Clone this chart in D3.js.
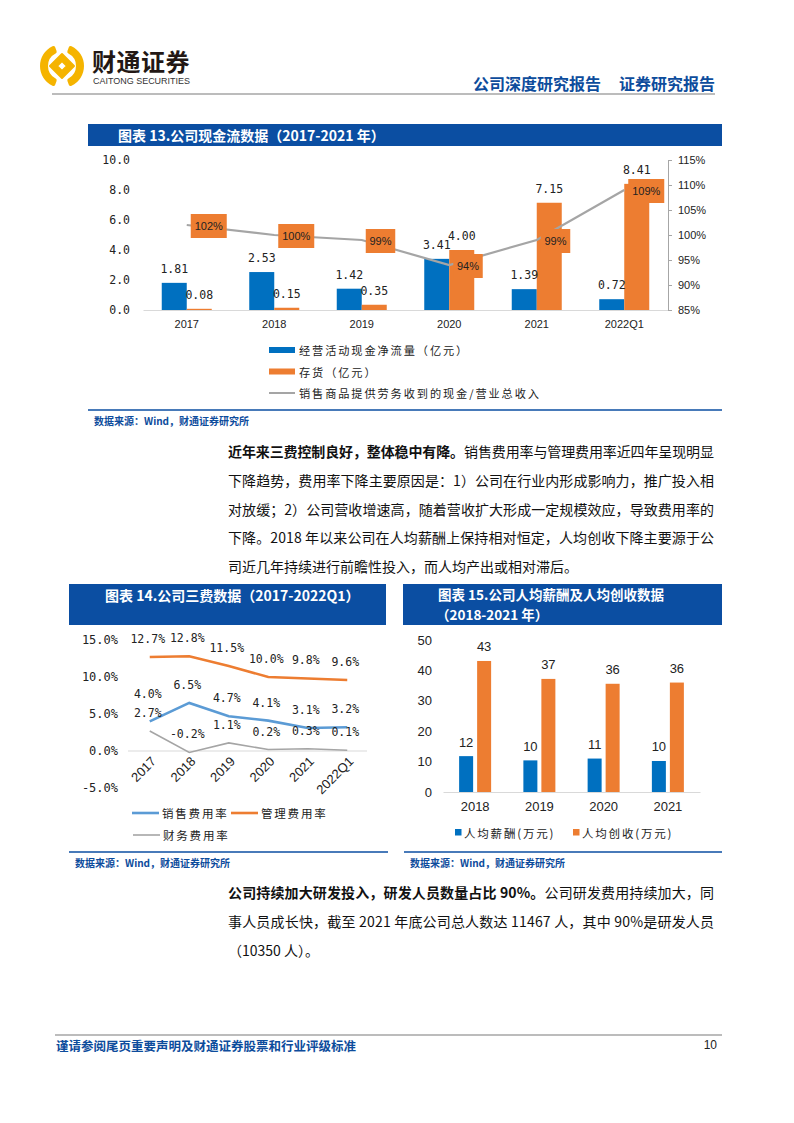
<!DOCTYPE html>
<html><head><meta charset="utf-8">
<script src="https://cdn.jsdelivr.net/npm/d3@7/dist/d3.min.js"></script>
<style>body{margin:0;background:#fff;} svg{display:block;}</style>
</head><body>
<script>
// ---------- DATA ----------
const cfYears = ["2017","2018","2019","2020","2021","2022Q1"];
const opCashFlow = [1.81,2.53,1.42,3.41,1.39,0.72];
const inventory = [0.08,0.15,0.35,4.00,7.15,8.41];
const cashRatio = [102,100,99,94,99,109];
const cfLeftTicks = [0,2,4,6,8,10];
const cfRightTicks = [85,90,95,100,105,110,115];
const cfLegend = ["经营活动现金净流量（亿元）","存货（亿元）","销售商品提供劳务收到的现金/营业总收入"];

const feeYears = ["2017","2018","2019","2020","2021","2022Q1"];
const salesRate = [4.0,6.5,4.7,4.1,3.1,3.2];
const mgmtRate = [12.7,12.8,11.5,10.0,9.8,9.6];
const finRate = [2.7,-0.2,1.1,0.2,0.3,0.1];
const feeTicks = [-5,0,5,10,15];
const feeLegend = ["销售费用率","管理费用率","财务费用率"];

const empYears = ["2018","2019","2020","2021"];
const avgSalary = [11.8,10.4,11.0,10.2];
const avgRevenue = [43.1,37.2,35.6,36.0];
const empTicks = [0,10,20,30,40,50];
const empLegend = ["人均薪酬(万元)","人均创收(万元)"];

// ---------- STYLE ----------
const CJK = "'Noto Sans CJK SC','Noto Sans',sans-serif";
const MONO = "'DejaVu Sans Mono','Noto Sans CJK SC',monospace";
const ARIAL = "'Liberation Sans',Arial,sans-serif";
const BLUE = "#0070C0", ORANGE = "#ED7D31", GREY = "#A5A5A5", LBLUE = "#5B9BD5";
const NAVY = "#0B4EA2", HEAD = "#0D4C9C";

const svg = d3.select("body").append("svg").attr("width",794).attr("height",1123);

// ---------- HEADER ----------
const logo = svg.append("g").attr("transform","translate(62,66)");
const ring = d3.arc().innerRadius(14).outerRadius(22).cornerRadius(2);
const deg = Math.PI/180;
logo.append("path").attr("d", ring({startAngle:200*deg,endAngle:340*deg})).attr("fill","#F5B400");
logo.append("path").attr("d", ring({startAngle:20*deg,endAngle:160*deg})).attr("fill","#F5B400");
logo.append("path").attr("d","M0,-12 L12,0 L0,12 L-12,0 Z M0,-5 L5,0 L0,5 L-5,0 Z")
  .attr("fill","#F5B400").attr("fill-rule","evenodd").attr("stroke","#F5B400").attr("stroke-width",2).attr("stroke-linejoin","round");
svg.append("text").attr("x",92).attr("y",71).text("财通证券")
  .attr("font-family",CJK).attr("font-size",24).attr("font-weight",700).attr("fill","#231815").attr("letter-spacing",0.5);
svg.append("text").attr("x",93).attr("y",84).text("CAITONG SECURITIES")
  .attr("font-family",ARIAL).attr("font-size",8.8).attr("fill","#333").attr("textLength",97).attr("lengthAdjust","spacingAndGlyphs");
svg.append("line").attr("x1",52).attr("x2",715).attr("y1",94).attr("y2",94).attr("stroke","#A6A6A6").attr("stroke-width",1.5);
svg.append("text").attr("x",473).attr("y",90).text("公司深度研究报告")
  .attr("font-family",CJK).attr("font-size",16).attr("font-weight",700).attr("fill",HEAD);
svg.append("text").attr("x",619).attr("y",90).text("证券研究报告")
  .attr("font-family",CJK).attr("font-size",16).attr("font-weight",700).attr("fill",HEAD);

// helpers
function titleBar(x,y,w,h,lines){
  svg.append("rect").attr("x",x).attr("y",y).attr("width",w).attr("height",h).attr("fill",NAVY);
  lines.forEach(l=>svg.append("text").attr("x",l.x).attr("y",l.y).text(l.t)
    .attr("font-family",CJK).attr("font-size",l.s||14).attr("font-weight",700).attr("fill","#fff").attr("dominant-baseline","central"));
}
function source(x1,x2,y){
  svg.append("line").attr("x1",x1).attr("x2",x2).attr("y1",y).attr("y2",y).attr("stroke",NAVY).attr("stroke-width",1.5);
  svg.append("text").attr("x",x1+6).attr("y",y+10).text("数据来源：Wind，财通证券研究所")
    .attr("font-family",CJK).attr("font-size",10).attr("font-weight",700).attr("fill",HEAD).attr("dominant-baseline","central");
}

// ---------- CHART 13 ----------
titleBar(88,124,634,22,[{x:118,y:135,t:"图表 13.公司现金流数据（2017-2021 年）"}]);
const g13 = svg.append("g");
const x13 = d3.scaleBand().domain(cfYears).range([143,668]);
const yL13 = d3.scaleLinear().domain([0,10]).range([310,160]);
const yR13 = d3.scaleLinear().domain([85,115]).range([310,160]);
const bw13 = 25;
const ax13L = g13.append("g").attr("transform","translate(134,0)")
  .call(d3.axisLeft(yL13).tickValues(cfLeftTicks).tickSize(0).tickPadding(4).tickFormat(d3.format(".1f")));
ax13L.select(".domain").remove();
ax13L.selectAll("text").attr("font-family",MONO).attr("font-size",11.5).attr("fill","#222");
const ax13B = g13.append("g").attr("transform","translate(0,310)")
  .call(d3.axisBottom(x13).tickSize(0).tickSizeOuter(0).tickPadding(10));
ax13B.select(".domain").attr("stroke","#D9D9D9");
ax13B.selectAll("text").attr("font-family",ARIAL).attr("font-size",11).attr("fill","#222");
const ax13R = g13.append("g").attr("transform","translate(668,0)")
  .call(d3.axisRight(yR13).tickValues(cfRightTicks).tickSize(4).tickSizeOuter(0).tickPadding(6).tickFormat(d=>d+"%"));
ax13R.select(".domain").attr("stroke","#A6A6A6");
ax13R.selectAll("line").attr("stroke","#A6A6A6");
ax13R.selectAll("text").attr("font-family",ARIAL).attr("font-size",11).attr("fill","#222");

cfYears.forEach((yr,i)=>{
  const c = x13(yr)+x13.bandwidth()/2;
  g13.append("rect").attr("x",c-bw13).attr("width",bw13).attr("y",yL13(opCashFlow[i])).attr("height",yL13(0)-yL13(opCashFlow[i])).attr("fill",BLUE);
  g13.append("rect").attr("x",c).attr("width",bw13).attr("y",yL13(inventory[i])).attr("height",yL13(0)-yL13(inventory[i])).attr("fill",ORANGE);
  g13.append("text").attr("x",c-bw13/2).attr("y",yL13(opCashFlow[i])-14).text(opCashFlow[i].toFixed(2))
    .attr("text-anchor","middle").attr("dominant-baseline","central").attr("font-family",MONO).attr("font-size",11.5).attr("fill","#222");
  g13.append("text").attr("x",c+bw13/2).attr("y",yL13(inventory[i])-14).text(inventory[i].toFixed(2))
    .attr("text-anchor","middle").attr("dominant-baseline","central").attr("font-family",MONO).attr("font-size",11.5).attr("fill","#222");
});
const line13 = d3.line().x((d,i)=>x13(cfYears[i])+x13.bandwidth()/2).y(d=>yR13(d));
g13.append("path").attr("d",line13(cashRatio)).attr("fill","none").attr("stroke",GREY).attr("stroke-width",2.2);
cashRatio.forEach((v,i)=>{
  const c = x13(cfYears[i])+x13.bandwidth()/2, t = v+"%";
  const w = t.length*6.5+10;
  g13.append("rect").attr("x",c+4).attr("y",yR13(v)-11).attr("width",w).attr("height",24).attr("fill",ORANGE);
  g13.append("text").attr("x",c+4+w/2).attr("y",yR13(v)+1).text(t).attr("text-anchor","middle").attr("dominant-baseline","central")
    .attr("font-family",ARIAL).attr("font-size",11).attr("fill","#222");
});
// legend 13
const leg13 = g13.append("g");
[BLUE,ORANGE,GREY].forEach((col,i)=>{
  const y = 350+i*21.5;
  if(i<2) leg13.append("rect").attr("x",269).attr("y",y-3).attr("width",26).attr("height",6).attr("fill",col);
  else leg13.append("line").attr("x1",269).attr("x2",295).attr("y1",y).attr("y2",y).attr("stroke",col).attr("stroke-width",2);
  leg13.append("text").attr("x",299).attr("y",y).text(cfLegend[i]).attr("dominant-baseline","central")
    .attr("font-family",CJK).attr("font-size",11.2).attr("letter-spacing",1.9).attr("fill","#222");
});
source(88,722,410);

// ---------- PARAGRAPH 1 ----------
function para(lines,y0,step){
  lines.forEach((ln,i)=>{
    const t = svg.append("text").attr("x",228).attr("y",y0+i*step).attr("font-family",CJK).attr("font-size",14).attr("fill","#111");
    if(ln.b) t.append("tspan").attr("font-weight",700).text(ln.b);
    t.append("tspan").text(ln.n);
    if(ln.j) t.attr("textLength",486).attr("lengthAdjust","spacing");
  });
}
para([
  {b:"近年来三费控制良好，整体稳中有降。",n:"销售费用率与管理费用率近四年呈现明显",j:1},
  {n:"下降趋势，费用率下降主要原因是：1）公司在行业内形成影响力，推广投入相",j:1},
  {n:"对放缓；2）公司营收增速高，随着营收扩大形成一定规模效应，导致费用率的",j:1},
  {n:"下降。2018 年以来公司在人均薪酬上保持相对恒定，人均创收下降主要源于公",j:1},
  {n:"司近几年持续进行前瞻性投入，而人均产出或相对滞后。"}
],457,28.8);

// ---------- CHART 14 ----------
titleBar(69,584,317,41,[{x:105,y:595,t:"图表 14.公司三费数据（2017-2022Q1）"}]);
const g14 = svg.append("g");
const x14 = d3.scaleBand().domain(feeYears).range([130,367]);
const y14 = d3.scaleLinear().domain([-5,15]).range([788,640]);
const ax14 = g14.append("g").attr("transform","translate(122,0)")
  .call(d3.axisLeft(y14).tickValues(feeTicks).tickSize(0).tickPadding(4).tickFormat(d=>d.toFixed(1)+"%"));
ax14.select(".domain").remove();
ax14.selectAll("text").attr("font-family",MONO).attr("font-size",12).attr("fill","#222");
g14.append("line").attr("x1",128).attr("x2",367).attr("y1",y14(0)).attr("y2",y14(0)).attr("stroke","#D9D9D9");
feeYears.forEach(yr=>{
  const c = x14(yr)+x14.bandwidth()/2;
  g14.append("text").attr("transform",`translate(${c+4},759) rotate(-45)`).attr("text-anchor","end").attr("dy","0.35em")
    .text(yr).attr("font-family",ARIAL).attr("font-size",13).attr("fill","#222");
});
const line14 = d3.line().x((d,i)=>x14(feeYears[i])+x14.bandwidth()/2).y(d=>y14(d));
[[mgmtRate,ORANGE,2.6],[salesRate,LBLUE,2.6],[finRate,GREY,1.6]].forEach(([arr,col,w])=>{
  g14.append("path").attr("d",line14(arr)).attr("fill","none").attr("stroke",col).attr("stroke-width",w);
});
[mgmtRate,salesRate,finRate].forEach((arr,si)=>{
  arr.forEach((v,i)=>{
    const c = x14(feeYears[i])+x14.bandwidth()/2;
    const off = (si===1 && i===0) ? 27 : 18;
    g14.append("text").attr("x",c-2).attr("y",y14(v)-off).text(v.toFixed(1)+"%").attr("text-anchor","middle").attr("dominant-baseline","central")
      .attr("font-family",MONO).attr("font-size",11.5).attr("fill","#222");
  });
});
// legend 14
[[132,813,LBLUE,0],[231,813,ORANGE,1],[133,835,GREY,2]].forEach(([lx,ly,col,i])=>{
  g14.append("line").attr("x1",lx).attr("x2",lx+27).attr("y1",ly).attr("y2",ly).attr("stroke",col).attr("stroke-width",i<2?2.6:1.6);
  g14.append("text").attr("x",lx+30).attr("y",ly).text(feeLegend[i]).attr("dominant-baseline","central")
    .attr("font-family",CJK).attr("font-size",11.5).attr("letter-spacing",1.8).attr("fill","#222");
});
source(69,388,852);

// ---------- CHART 15 ----------
titleBar(403,584,319,41,[{x:438,y:594,t:"图表 15.公司人均薪酬及人均创收数据",s:13.5},{x:436,y:614,t:"（2018-2021 年）",s:13.5}]);
const g15 = svg.append("g");
const x15 = d3.scaleBand().domain(empYears).range([443,700]);
const y15 = d3.scaleLinear().domain([0,50]).range([792,640]);
const ax15 = g15.append("g").attr("transform","translate(436,0)")
  .call(d3.axisLeft(y15).tickValues(empTicks).tickSize(0).tickPadding(4));
ax15.select(".domain").remove();
ax15.selectAll("text").attr("font-family",ARIAL).attr("font-size",13).attr("fill","#222");
const ax15B = g15.append("g").attr("transform","translate(0,792)")
  .call(d3.axisBottom(x15).tickSize(0).tickSizeOuter(0).tickPadding(10));
ax15B.select(".domain").attr("stroke","#D9D9D9");
ax15B.selectAll("text").attr("font-family",ARIAL).attr("font-size",13).attr("fill","#222");
empYears.forEach((yr,i)=>{
  const c = x15(yr)+x15.bandwidth()/2;
  [[avgSalary[i],BLUE,c-16],[avgRevenue[i],ORANGE,c+2]].forEach(([v,col,bx])=>{
    g15.append("rect").attr("x",bx).attr("width",14).attr("y",y15(v)).attr("height",y15(0)-y15(v)).attr("fill",col);
    g15.append("text").attr("x",bx+7).attr("y",y15(v)-14).text(Math.round(v)).attr("text-anchor","middle").attr("dominant-baseline","central")
      .attr("font-family",ARIAL).attr("font-size",13).attr("fill","#222");
  });
});
[[455,BLUE,0],[573,ORANGE,1]].forEach(([lx,col,i])=>{
  g15.append("rect").attr("x",lx).attr("y",829).attr("width",6.5).attr("height",6.5).attr("fill",col);
  g15.append("text").attr("x",lx+9).attr("y",833).text(empLegend[i]).attr("dominant-baseline","central")
    .attr("font-family",CJK).attr("font-size",11.5).attr("letter-spacing",1.8).attr("fill","#222");
});
source(404,722,852);

// ---------- PARAGRAPH 2 ----------
para([
  {b:"公司持续加大研发投入，研发人员数量占比 90%。",n:"公司研发费用持续加大，同",j:1},
  {n:"事人员成长快，截至 2021 年底公司总人数达 11467 人，其中 90%是研发人员",j:1},
  {n:"（10350 人）。"}
],898,29);

// ---------- FOOTER ----------
svg.append("line").attr("x1",55).attr("x2",722).attr("y1",1035).attr("y2",1035).attr("stroke","#A6A6A6").attr("stroke-width",1.5);
svg.append("text").attr("x",56).attr("y",1045).text("谨请参阅尾页重要声明及财通证券股票和行业评级标准")
  .attr("font-family",CJK).attr("font-size",12.5).attr("font-weight",700).attr("fill",HEAD).attr("dominant-baseline","central");
svg.append("text").attr("x",717).attr("y",1045).text("10").attr("text-anchor","end")
  .attr("font-family",ARIAL).attr("font-size",12).attr("fill","#222").attr("dominant-baseline","central");
</script>
</body></html>
